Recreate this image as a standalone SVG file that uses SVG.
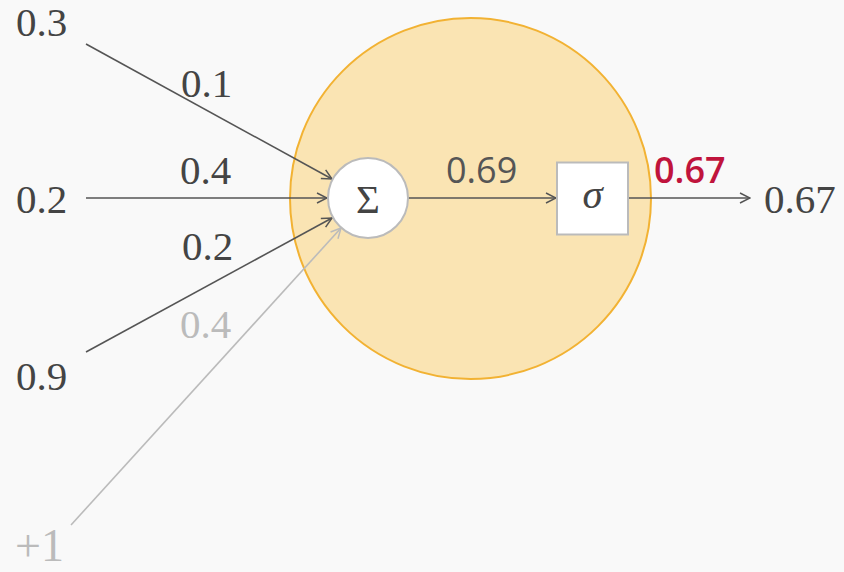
<svg xmlns="http://www.w3.org/2000/svg" width="844" height="572" viewBox="0 0 844 572">
<defs>
<style>
.serif{font-family:"Liberation Serif","DejaVu Serif",serif;font-size:41px;fill:#444}
.sans{font-family:"Open Sans","Noto Sans",sans-serif;font-size:36px}
.dark{stroke:#555;stroke-width:1.6;fill:none}
.light{stroke:#bbb;stroke-width:1.6;fill:none}
</style>
<marker id="ad" viewBox="0 0 12 12" refX="11" refY="6" markerWidth="12" markerHeight="12" markerUnits="userSpaceOnUse" orient="auto">
<path d="M1,1 L11,6 L1,11" fill="none" stroke="#555" stroke-width="1.5"/>
</marker>
<marker id="al" viewBox="0 0 12 12" refX="11" refY="6" markerWidth="12" markerHeight="12" markerUnits="userSpaceOnUse" orient="auto">
<path d="M1,1 L11,6 L1,11" fill="none" stroke="#bbb" stroke-width="1.5"/>
</marker>
</defs>
<rect width="844" height="572" fill="#f9f9f9"/>
<g id="neuron">
<circle cx="470.5" cy="198.5" r="180.5" fill="#fae4b3" stroke="#f2b233" stroke-width="2"/>
</g>
<g id="connectors">
<line class="dark" x1="86" y1="44" x2="332" y2="179" marker-end="url(#ad)"/>
<line class="dark" x1="86" y1="198" x2="327" y2="198" marker-end="url(#ad)"/>
<line class="dark" x1="86" y1="352" x2="332" y2="218" marker-end="url(#ad)"/>
<line class="light" x1="71" y1="525" x2="341" y2="228" marker-end="url(#al)"/>
<line class="dark" x1="408" y1="198" x2="556" y2="198" marker-end="url(#ad)"/>
<line class="dark" x1="628" y1="198" x2="750" y2="198" marker-end="url(#ad)"/>
</g>
<g id="sum">
<circle cx="368" cy="198" r="40" fill="#fff" stroke="#bbb" stroke-width="2"/>
<text class="serif" x="368" y="213" text-anchor="middle" font-size="40">Σ</text>
</g>
<g id="sigma">
<rect x="557" y="162.5" width="71" height="72" fill="#fff" stroke="#bbb" stroke-width="2"/>
<text class="serif" x="592.5" y="208" text-anchor="middle" font-style="italic" font-size="40">σ</text>
</g>
<g id="inputs">
<text class="serif" x="16" y="36">0.3</text>
<text class="serif" x="16" y="213">0.2</text>
<text class="serif" x="16" y="390">0.9</text>
<text class="serif" x="15" y="561" style="fill:#bbb;font-size:46px">+1</text>
</g>
<g id="weights">
<text class="serif" x="181" y="97">0.1</text>
<text class="serif" x="180" y="184">0.4</text>
<text class="serif" x="182" y="260">0.2</text>
<text class="serif" x="180" y="338" style="fill:#bbb">0.4</text>
</g>
<g id="values">
<text class="sans" x="446" y="183" fill="#555">0.69</text>
<text class="sans" x="654" y="183" fill="#c0143c" font-weight="600">0.67</text>
<text class="serif" x="764" y="213">0.67</text>
</g>
</svg>
